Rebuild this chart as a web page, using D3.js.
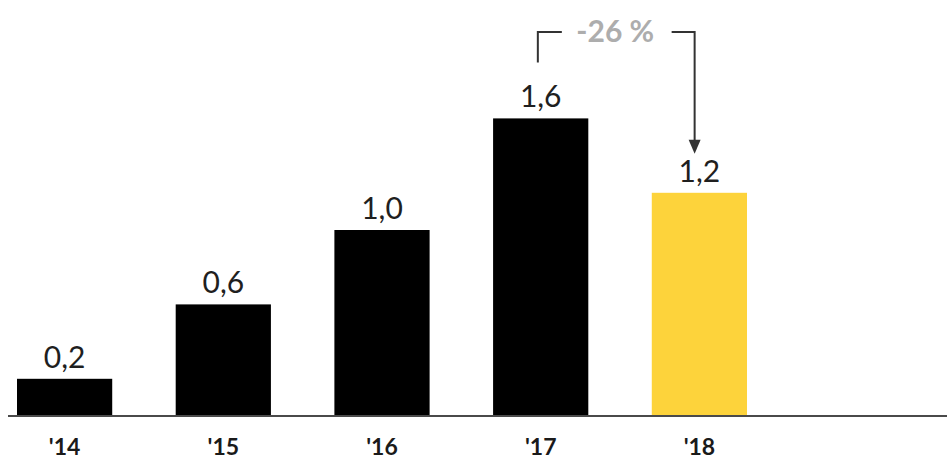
<!DOCTYPE html>
<html>
<head>
<meta charset="utf-8">
<script src="https://cdn.jsdelivr.net/npm/d3@7/dist/d3.min.js"></script>
<style>
  html, body { margin: 0; padding: 0; background: #fff; }
  svg { display: block; }
</style>
</head>
<body>
<svg id="chart" width="947" height="461"></svg>
<script>
// Yearly values
const years = ["'14", "'15", "'16", "'17", "'18"];
const values = [0.2, 0.6, 1.0, 1.6, 1.2];
const valueLabels = ["0,2", "0,6", "1,0", "1,6", "1,2"];
const highlightYear = "'18";
const changeLabel = "-26 %";
const changeFrom = "'17";
const changeTo = "'18";

const svg = d3.select("#chart");
const baseY = 416;

const x = d3.scaleBand()
  .domain(years)
  .range([17, 747])
  .paddingInner(0.4)
  .paddingOuter(0);

const y = d3.scaleLinear()
  .domain([0, 1.0])
  .range([baseY, 230]);

// Bars
svg.append("g")
  .selectAll("rect")
  .data(years)
  .join("rect")
  .attr("x", d => x(d))
  .attr("width", x.bandwidth())
  .attr("y", (d, i) => y(values[i]))
  .attr("height", (d, i) => baseY - y(values[i]))
  .attr("fill", d => d === highlightYear ? "#fdd33b" : "#000");

// Value labels above bars
svg.append("g")
  .selectAll("text")
  .data(years)
  .join("text")
  .attr("x", d => x(d) + x.bandwidth() / 2)
  .attr("y", (d, i) => y(values[i]) - 11)
  .attr("text-anchor", "middle")
  .attr("font-family", "Lato, 'Open Sans', sans-serif")
  .attr("font-weight", 400)
  .attr("font-size", 30)
  .attr("fill", "#1f1f1f")
  .text((d, i) => valueLabels[i]);

// Baseline
svg.append("line")
  .attr("x1", 8).attr("x2", 947)
  .attr("y1", baseY).attr("y2", baseY)
  .attr("stroke", "#4a4a4a")
  .attr("stroke-width", 2);

// Category axis labels
const xAxis = d3.axisBottom(x).tickSize(0).tickPadding(0);
const gx = svg.append("g")
  .attr("transform", `translate(0,${baseY})`)
  .call(xAxis);
gx.select(".domain").remove();
gx.selectAll("text")
  .attr("dy", null)
  .attr("y", 39)
  .attr("font-family", "Lato, 'Open Sans', sans-serif")
  .attr("font-weight", 700)
  .attr("font-size", 23)
  .attr("fill", "#1a1a1a");

// Change annotation: bracket from the '17 label to an arrow over the '18 label
const iFrom = years.indexOf(changeFrom);
const iTo = years.indexOf(changeTo);
const topY = 32;
const xStart = x(changeFrom) + x.bandwidth() * 0.47;
const xEnd = x(changeTo) + x.bandwidth() * 0.45;
const startBottom = y(values[iFrom]) - 56;
const tipY = y(values[iTo]) - 11 - 28;
const textX = (xStart + xEnd) / 2 - 1;
const ink = "#333";

const ann = svg.append("g");
ann.append("path")
  .attr("d", `M${xStart},${startBottom}V${topY}H${xStart + 24}`)
  .attr("fill", "none")
  .attr("stroke", ink)
  .attr("stroke-width", 2);
ann.append("path")
  .attr("d", `M${xEnd - 23},${topY}H${xEnd}V${tipY - 12}`)
  .attr("fill", "none")
  .attr("stroke", ink)
  .attr("stroke-width", 2);
ann.append("path")
  .attr("d", `M${xEnd - 6},${tipY - 14}L${xEnd + 6},${tipY - 14}L${xEnd},${tipY}Z`)
  .attr("fill", ink);
ann.append("text")
  .attr("x", textX)
  .attr("y", 42)
  .attr("text-anchor", "middle")
  .attr("font-family", "Lato, 'Open Sans', sans-serif")
  .attr("font-weight", 700)
  .attr("font-size", 30)
  .attr("fill", "#adadad")
  .text(changeLabel);
</script>
</body>
</html>
